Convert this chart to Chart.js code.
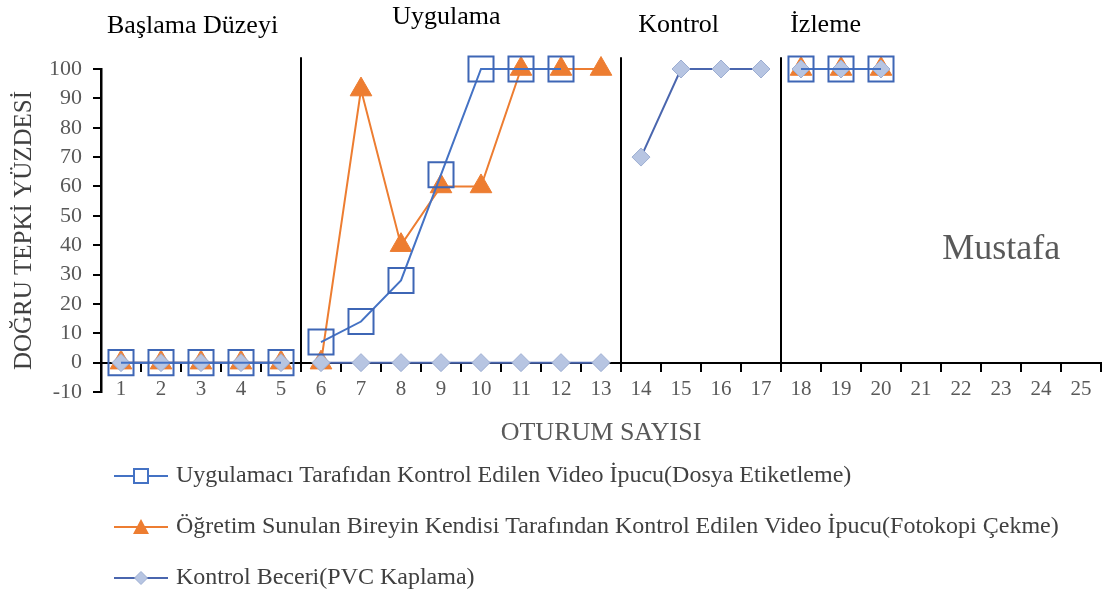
<!DOCTYPE html>
<html><head><meta charset="utf-8">
<script src="https://cdn.jsdelivr.net/npm/chart.js@4/dist/chart.umd.min.js"></script>
<style>html,body{margin:0;padding:0;background:#fff}canvas{display:block}</style>
</head><body>
<canvas id="c" width="1104" height="594"></canvas>
<script>
// ---- data ----
const categories = ['1','2','3','4','5','6','7','8','9','10','11','12','13','14','15','16','17','18','19','20','21','22','23','24','25'];
const yTicks = [-10,0,10,20,30,40,50,60,70,80,90,100];
const seriesNames = [
  'Uygulamacı Tarafıdan Kontrol Edilen Video İpucu(Dosya Etiketleme)',
  'Öğretim Sunulan Bireyin Kendisi Tarafından Kontrol Edilen Video İpucu(Fotokopi Çekme)',
  'Kontrol Beceri(PVC Kaplama)'
];
const videoLabeling    = [0,0,0,0,0,7,14,28,64,100,100,100,null,null,null,null,null,100,100,100,null,null,null,null,null];
const selfVideoCopying = [0,0,0,0,0,0,93,40,60,60,100,100,100,null,null,null,null,100,100,100,null,null,null,null,null];
const controlSkill     = [0,0,0,0,0,0,0,0,0,0,0,0,0,70,100,100,100,100,100,100,null,null,null,null,null];
const phaseNames = ['Başlama Düzeyi','Uygulama','Kontrol','İzleme'];
const phaseEnds = ['5','13','17'];
const participant = 'Mustafa';
const xTitle = 'OTURUM SAYISI';
const yTitle = 'DOĞRU TEPKİ YÜZDESİ';

// ---- styling ----
const FONT = "'Liberation Serif', 'Times New Roman', serif";
const BLUE = '#4472C4', ORANGE = '#ED7D31', GLINE = '#4A66AE', GFILL = '#B7C5E2', GEDGE = '#9DAED2';
const breakIdx = phaseEnds.map(c => categories.indexOf(c));
const seg = color => ({ borderColor: ctx => breakIdx.includes(ctx.p0DataIndex) ? 'rgba(0,0,0,0)' : color });

function makeIcon(kind, lineColor) {
  const c = document.createElement('canvas');
  c.width = 54; c.height = 20;
  const g = c.getContext('2d');
  g.strokeStyle = lineColor; g.lineWidth = 2;
  g.beginPath(); g.moveTo(0, 10); g.lineTo(54, 10); g.stroke();
  const cx = 27, cy = 10;
  if (kind === 'square') {
    g.fillStyle = '#fff'; g.fillRect(cx - 7, cy - 7, 14, 14);
    g.strokeStyle = BLUE; g.lineWidth = 2; g.strokeRect(cx - 7, cy - 7, 14, 14);
  } else if (kind === 'triangle') {
    g.fillStyle = ORANGE; g.beginPath();
    g.moveTo(cx, cy - 8); g.lineTo(cx + 8, cy + 7); g.lineTo(cx - 8, cy + 7); g.closePath(); g.fill();
  } else {
    g.fillStyle = GFILL; g.strokeStyle = GEDGE; g.lineWidth = 1; g.beginPath();
    g.moveTo(cx, cy - 6.5); g.lineTo(cx + 6.5, cy); g.lineTo(cx, cy + 6.5); g.lineTo(cx - 6.5, cy); g.closePath();
    g.fill(); g.stroke();
  }
  return c;
}
const legendIcons = [makeIcon('square', BLUE), makeIcon('triangle', ORANGE), makeIcon('diamond', GLINE)];

const decorPlugin = {
  id: 'decor',
  afterLayout(chart) {
    const lg = chart.legend;
    if (lg) { lg.left += 91; lg.right += 91; }
  },
  beforeDatasetsDraw(chart) {
    const xs = chart.scales.x, ys = chart.scales.y, ctx = chart.ctx;
    ctx.save();
    ctx.strokeStyle = '#000'; ctx.lineWidth = 2;
    breakIdx.forEach(i => {
      const x = Math.round((xs.getPixelForValue(i) + xs.getPixelForValue(i + 1)) / 2);
      ctx.beginPath();
      ctx.moveTo(x, ys.getPixelForValue(104));
      ctx.lineTo(x, ys.getPixelForValue(0));
      ctx.stroke();
    });
    ctx.restore();
  },
  afterDraw(chart) {
    const xs = chart.scales.x, ys = chart.scales.y, ctx = chart.ctx;
    const x0 = xs.getPixelForValue(0), step = xs.getPixelForValue(1) - x0;
    const catX = f => x0 + f * step;
    const spots = [[-0.35, 112.2], [6.78, 115.2], [12.93, 112.6], [16.73, 112.6]];
    ctx.save();
    ctx.fillStyle = '#000';
    ctx.font = "26px " + FONT;
    ctx.textAlign = 'left'; ctx.textBaseline = 'alphabetic';
    phaseNames.forEach((t, i) => ctx.fillText(t, catX(spots[i][0]), ys.getPixelForValue(spots[i][1])));
    ctx.fillStyle = '#595959';
    ctx.font = "36px " + FONT;
    ctx.fillText(participant, catX(20.53), ys.getPixelForValue(35.2));
    ctx.restore();
  }
};

new Chart(document.getElementById('c'), {
  type: 'line',
  data: {
    labels: categories,
    datasets: [
      { label: seriesNames[0], data: videoLabeling, order: 0, clip: false,
        borderColor: BLUE, borderWidth: 2, tension: 0, segment: seg(BLUE),
        pointStyle: 'rect', pointRadius: 17.7, pointBorderWidth: 2, pointBorderColor: '#3E66B5',
        pointBackgroundColor: 'rgba(255,255,255,0)' },
      { label: seriesNames[1], data: selfVideoCopying, order: 2, clip: false,
        borderColor: ORANGE, borderWidth: 2, tension: 0, segment: seg(ORANGE),
        pointStyle: 'triangle', pointRadius: 12.5, pointBorderWidth: 1, pointBorderColor: ORANGE,
        pointBackgroundColor: ORANGE },
      { label: seriesNames[2], data: controlSkill, order: 1, clip: false,
        borderColor: GLINE, borderWidth: 2, tension: 0, segment: seg(GLINE),
        pointStyle: 'rectRot', pointRadius: 9, pointBorderWidth: 1, pointBorderColor: GEDGE,
        pointBackgroundColor: GFILL }
    ]
  },
  options: {
    responsive: false, animation: false, devicePixelRatio: 1,
    layout: { autoPadding: false, padding: { top: 69, right: 3, left: 0, bottom: -6 } },
    plugins: {
      tooltip: { enabled: false },
      legend: {
        position: 'bottom', align: 'start',
        labels: {
          usePointStyle: true, pointStyleWidth: 46, padding: 27,
          font: { family: FONT, size: 24 }, color: '#404040',
          generateLabels: chart => chart.data.datasets.map((ds, i) => ({
            text: ds.label, pointStyle: legendIcons[i], datasetIndex: i, hidden: false,
            lineWidth: 0, strokeStyle: 'rgba(0,0,0,0)', fillStyle: 'rgba(0,0,0,0)', fontColor: '#404040'
          }))
        }
      }
    },
    scales: {
      x: {
        type: 'category', position: { y: 0 }, offset: true,
        afterFit: s => { s.paddingLeft = 0; s.paddingRight = 0; },
        grid: { drawOnChartArea: false, drawTicks: true, tickLength: 8, color: '#000', lineWidth: 2, offset: true },
        border: { color: '#000', width: 2 },
        ticks: { font: { family: FONT, size: 21 }, color: '#595959', padding: 6, maxRotation: 0, autoSkip: false },
        title: { display: true, text: xTitle, font: { family: FONT, size: 26 }, color: '#595959', padding: { top: 10, bottom: 0 } }
      },
      xSpace: {
        type: 'category', position: 'bottom', display: true,
        grid: { display: false }, border: { display: false }, ticks: { display: false },
        afterFit: s => { s.height = 45; s.paddingLeft = 0; s.paddingRight = 0; }
      },
      y: {
        min: -10, max: 100,
        afterBuildTicks: s => { s.ticks = yTicks.map(v => ({ value: v })); },
        afterFit: s => { s.width = 101; },
        grid: { drawOnChartArea: false, drawTicks: true, tickLength: 8, color: '#000', lineWidth: 2 },
        border: { color: '#000', width: 2.5 },
        ticks: { font: { family: FONT, size: 22 }, color: '#595959', padding: 11, autoSkip: false },
        title: { display: true, text: yTitle, font: { family: FONT, size: 25 }, color: '#404040', padding: { top: 9, bottom: 0 } }
      }
    }
  },
  plugins: [decorPlugin]
});
</script>
</body></html>
